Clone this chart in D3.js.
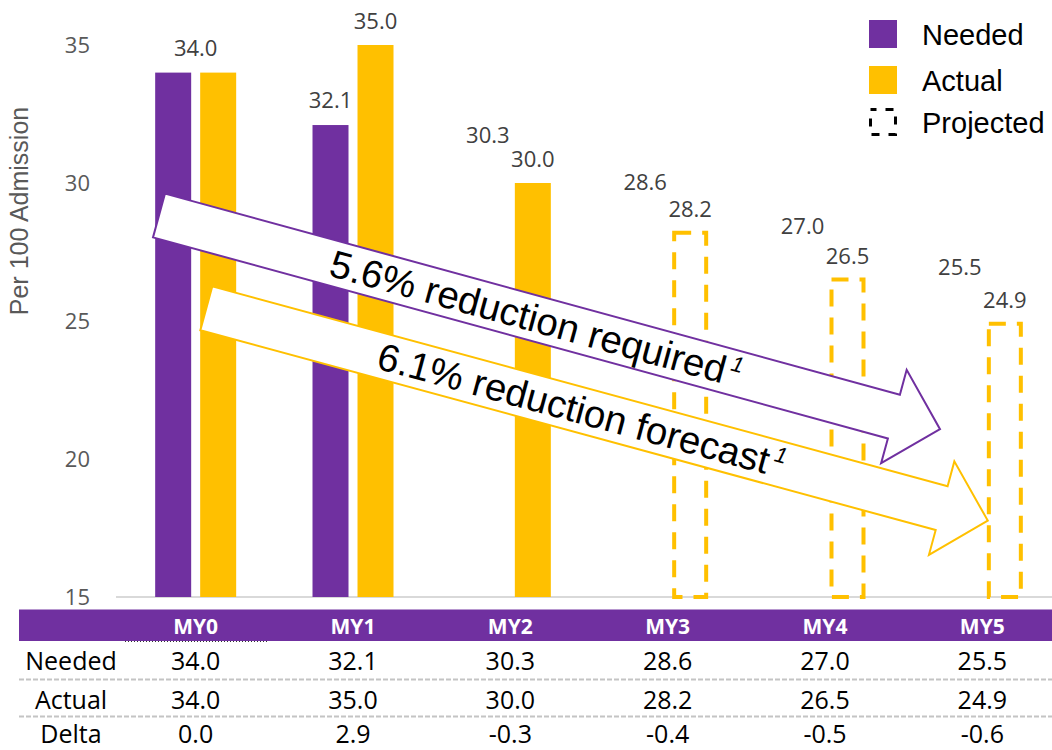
<!DOCTYPE html>
<html>
<head>
<meta charset="utf-8">
<script src="https://cdn.jsdelivr.net/npm/d3@7"></script>
<style>
  html, body { margin: 0; padding: 0; background: #ffffff; }
  svg { display: block; }
</style>
</head>
<body>
<svg id="chart" width="1052" height="750"></svg>
<script>
// ---- data ----
const years = ["MY0", "MY1", "MY2", "MY3", "MY4", "MY5"];
const needed = [34.0, 32.1, 30.3, 28.6, 27.0, 25.5];
const actual = [34.0, 35.0, 30.0, 28.2, 26.5, 24.9];
const delta = [0.0, 2.9, -0.3, -0.4, -0.5, -0.6];
// Needed is shown as a bar only for the first two years
const neededBarShown = [true, true, false, false, false, false];
// Actual values from MY3 onward are projections (outlined bars)
const projected = [false, false, false, true, true, true];
const yTicks = [15, 20, 25, 30, 35];
const tableRows = ["Needed", "Actual", "Delta"];
const legendItems = ["Needed", "Actual", "Projected"];
const arrowTexts = ["5.6% reduction required", "6.1% reduction forecast"];

// ---- styling ----
const PURPLE = "#7030A0";
const GOLD = "#FFC000";
const LABEL = "#404040";
const AXIS = "#595959";
const NUM_FONT = "'Open Sans', sans-serif";
const SANS = "'Liberation Sans', Arial, sans-serif";

const svg = d3.select("#chart");

// ---- scales ----
const x = d3.scaleBand().domain(years).range([117, 1061]);
const series = ["Needed", "Actual"];
const xInner = d3.scaleBand().domain(series)
  .range([38.17, 119.17]).paddingInner(0.2).paddingOuter(0);
const y = d3.scaleLinear().domain([15, 35]).range([597, 45]);

const rows = years.map((yr, i) => ({
  year: yr, needed: needed[i], actual: actual[i], delta: delta[i],
  showNeeded: neededBarShown[i], projected: projected[i]
}));

// ---- y axis ----
const yAxis = d3.axisLeft(y).tickValues(yTicks).tickSize(0).tickPadding(0)
  .tickFormat(d3.format("d"));
const yg = svg.append("g").attr("transform", "translate(90,0)").call(yAxis);
yg.select(".domain").remove();
yg.selectAll("text")
  .attr("fill", AXIS).style("font-family", NUM_FONT).style("font-size", "22px");

svg.append("text")
  .attr("transform", `translate(19,${(y(35) + y(15)) / 2 - 110}) rotate(-90)`)
  .attr("text-anchor", "middle").attr("dominant-baseline", "central")
  .attr("fill", AXIS).style("font-family", SANS).style("font-size", "25px")
  .text("Per 100 Admission");

// baseline at the bottom of the value axis
svg.append("line")
  .attr("x1", 116).attr("x2", 1052).attr("y1", y(15)).attr("y2", y(15))
  .attr("stroke", "#d9d9d9").attr("stroke-width", 2);

// ---- bars ----
const groups = svg.append("g").selectAll("g").data(rows).join("g")
  .attr("transform", d => `translate(${x(d.year)},0)`);

groups.filter(d => d.showNeeded).append("rect")
  .attr("x", xInner("Needed")).attr("width", xInner.bandwidth())
  .attr("y", d => y(d.needed)).attr("height", d => y(15) - y(d.needed))
  .attr("fill", PURPLE);

groups.filter(d => !d.projected).append("rect")
  .attr("x", xInner("Actual")).attr("width", xInner.bandwidth())
  .attr("y", d => y(d.actual)).attr("height", d => y(15) - y(d.actual))
  .attr("fill", GOLD);

groups.filter(d => d.projected).append("rect")
  .attr("x", xInner("Actual") + 2).attr("width", xInner.bandwidth() - 4)
  .attr("y", d => y(d.actual)).attr("height", d => y(15) - y(d.actual))
  .attr("fill", "none").attr("stroke", GOLD).attr("stroke-width", 4)
  .attr("stroke-dasharray", "17 11");

// ---- value labels ----
const labelStyle = sel => sel
  .attr("text-anchor", "middle").attr("dominant-baseline", "central")
  .attr("fill", LABEL).style("font-family", NUM_FONT).style("font-size", "22px");

groups.append("text")
  .attr("x", d => d.needed === d.actual
    ? xInner("Needed") + (xInner("Actual") + xInner.bandwidth() - xInner("Needed")) / 2
    : xInner("Needed") + xInner.bandwidth() / 2)
  .attr("y", d => y(d.needed) - (d.showNeeded ? 26 : 41))
  .call(labelStyle)
  .text(d => d.needed.toFixed(1));

groups.filter(d => d.needed !== d.actual).append("text")
  .attr("x", xInner("Actual") + xInner.bandwidth() / 2)
  .attr("y", d => y(d.actual) - 25)
  .call(labelStyle)
  .text(d => d.actual.toFixed(1));

// ---- trend arrows ----
const arrows = [
  { text: arrowTexts[0], color: PURPLE, tail: [159, 215.5], angle: 15.3, length: 809.7 },
  { text: arrowTexts[1], color: GOLD, tail: [206.3, 308.3], angle: 15.2, length: 809.8 }
];
const shaftHalf = 22.7, headHalf = 48.4, headLen = 47.8;

arrows.forEach(a => {
  const g = svg.append("g")
    .attr("transform", `translate(${a.tail[0]},${a.tail[1]}) rotate(${a.angle})`);
  const L = a.length, s = L - headLen;
  const pts = [[0, -shaftHalf], [s, -shaftHalf], [s, -headHalf], [L, 0],
               [s, headHalf], [s, shaftHalf], [0, shaftHalf]];
  g.append("path")
    .attr("d", d3.line()(pts) + "Z")
    .attr("fill", "#ffffff").attr("stroke", a.color).attr("stroke-width", 2)
    .attr("stroke-linejoin", "miter");
  const t = g.append("text")
    .attr("x", 178.5).attr("y", 13.5)
    .attr("fill", "#000000").style("font-family", SANS).style("font-size", "38.5px")
    .text(a.text);
  t.append("tspan")
    .attr("dx", 4).attr("dy", -15)
    .style("font-size", "22px").style("font-style", "italic")
    .text("1");
});

// ---- legend ----
const legend = svg.append("g").attr("transform", "translate(869,20)");
const li = legend.selectAll("g").data(legendItems).join("g")
  .attr("transform", (d, i) => `translate(0,${[0, 46, 88][i]})`);
li.filter(d => d !== "Projected").append("rect")
  .attr("width", 28).attr("height", 28)
  .attr("fill", d => d === "Needed" ? PURPLE : GOLD);
li.filter(d => d === "Projected").append("rect")
  .attr("x", 1.5).attr("y", 1.5).attr("width", 25).attr("height", 25)
  .attr("fill", "none").attr("stroke", "#000000").attr("stroke-width", 3)
  .attr("stroke-dasharray", "8 9").attr("stroke-dashoffset", 2);
li.append("text")
  .attr("x", 53).attr("y", 15).attr("dominant-baseline", "central")
  .attr("fill", "#000000").style("font-family", SANS).style("font-size", "29px")
  .text(d => d);

// ---- data table ----
const table = svg.append("g");
table.append("rect")
  .attr("x", 19).attr("y", 609.5).attr("width", 1052 - 19).attr("height", 31.5)
  .attr("fill", PURPLE);
table.append("line")
  .attr("x1", x("MY0") + 8).attr("x2", x("MY0") + x.bandwidth() - 6)
  .attr("y1", 641.5).attr("y2", 641.5)
  .attr("stroke", "#333333").attr("stroke-width", 1).attr("stroke-dasharray", "1 2");

table.selectAll("text.hdr").data(years).join("text").attr("class", "hdr")
  .attr("x", d => x(d) + x.bandwidth() / 2).attr("y", 626)
  .attr("text-anchor", "middle").attr("dominant-baseline", "central")
  .attr("fill", "#ffffff").style("font-family", NUM_FONT)
  .style("font-weight", "bold").style("font-size", "21px")
  .text(d => d);

const rowY = [660, 698.5, 732.5];
const rowValues = [needed, actual, delta];
[679.5, 716.5].forEach(yy => {
  table.append("line")
    .attr("x1", 19).attr("x2", 1052).attr("y1", yy).attr("y2", yy)
    .attr("stroke", "#c4c4c4").attr("stroke-width", 2).attr("stroke-dasharray", "5 2");
});

tableRows.forEach((name, r) => {
  table.append("text")
    .attr("x", 71).attr("y", rowY[r])
    .attr("text-anchor", "middle").attr("dominant-baseline", "central")
    .attr("fill", "#000000").style("font-family", NUM_FONT).style("font-size", "25px")
    .text(name);
  table.selectAll(null).data(rowValues[r]).join("text")
    .attr("x", (d, i) => x(years[i]) + x.bandwidth() / 2).attr("y", rowY[r])
    .attr("text-anchor", "middle").attr("dominant-baseline", "central")
    .attr("fill", "#000000").style("font-family", NUM_FONT).style("font-size", "25px")
    .text(d => d.toFixed(1));
});
</script>
</body>
</html>
